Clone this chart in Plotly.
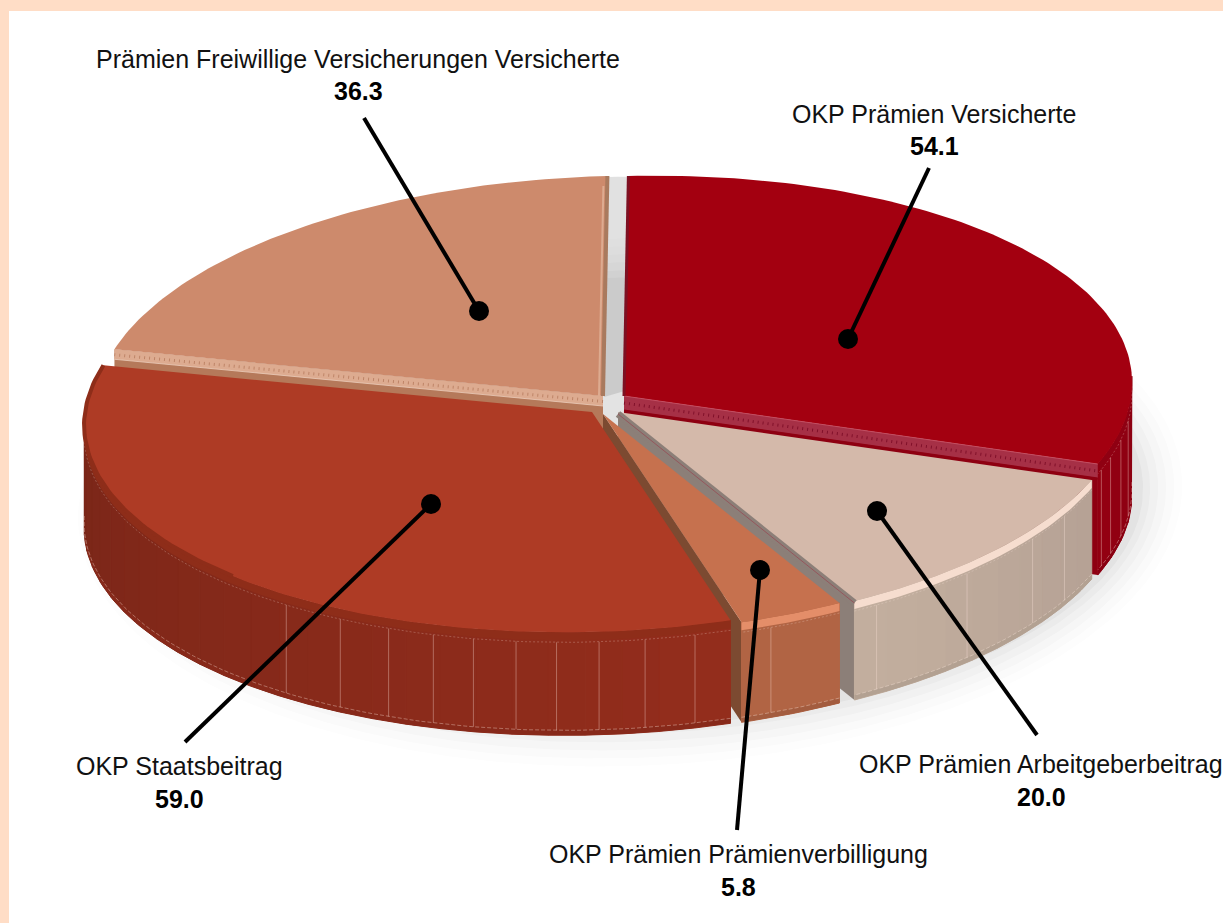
import math
import plotly.graph_objects as go

# ---- data ----
CATEGORIES = ["OKP Prämien Versicherte", "OKP Prämien Arbeitgeberbeitrag",
              "OKP Prämien Prämienverbilligung", "OKP Staatsbeitrag",
              "Prämien Freiwillige Versicherungen Versicherte"]
VALUES = [54.1, 20.0, 5.8, 59.0, 36.3]
VALUE_LABELS = ["54.1", "20.0", "5.8", "59.0", "36.3"]

# ---- styling / layout ----
W, H = 1223, 923
RX, RY = 508, 220
DEPTHS = [111, 99, 100, 103, 97]
TILT, SHEAR = 0.024, 0.02
TIPS = [(624, 396), (618, 412), (603, 414), (592, 412), (603, 396)]
SURFACE = ["#A30010", "#D4B9AA", "#C6714E", "#AE3B25", "#CD8A6C"]
RIM = ["#8F0012", "#F6DDCF", "#E48E69", "#8E2D19", "#B97C5F"]
WALL_A = ["#8A0012", "#B5A194", "#B16444", "#7A2618", "#B97C5F"]
WALL_B = ["#940012", "#C3AF9F", "#B16444", "#932D1C", "#B97C5F"]
RIBS = [[97, 102, 106.7, 110], [118.5, 125.3, 136.6, 149.4], [160.7],
        [168.3, 174, 179.2, 184, 188.6, 193.5, 198.2, 203.6, 209.7, 217], []]
LABEL_POS = [(934, 114, 146), (1041, 764, 797), (738, 854, 887), (179, 766, 799), (358, 59, 91)]
LEADERS = [((929, 168), (848, 339)), ((1037, 735), (877, 511)), ((737, 830), (760, 570)),
           ((185, 742), (431, 504)), ((364, 118), (479, 311))]
FONT = "Liberation Sans, Arial, sans-serif"

total = sum(VALUES)
edges = [0.0]
for v in VALUES:
    edges.append(edges[-1] + v / total * 360.0)


def pt(tip, deg, dz=0.0, rs=1.0):
    t = math.radians(deg)
    dx = rs * RX * math.sin(t)
    dy = -rs * RY * math.cos(t)
    return tip[0] + dx + SHEAR * max(-dy, 0), tip[1] + dy - TILT * dx + dz


def arc(tip, a, b, dz=0.0, rs=1.0, n=None):
    n = n or max(2, int(abs(b - a) / 1.0))
    return [pt(tip, a + (b - a) * i / n, dz, rs) for i in range(n + 1)]


fig = go.Figure()


def poly(points, color, line=0.0, lcolor=None):
    xs = [p[0] for p in points] + [points[0][0]]
    ys = [p[1] for p in points] + [points[0][1]]
    fig.add_trace(go.Scatter(x=xs, y=ys, mode="lines", fill="toself", fillcolor=color,
                             line=dict(width=line, color=lcolor or color),
                             hoverinfo="skip", showlegend=False))


def stroke(points, color, width=1.0, dash=None):
    fig.add_trace(go.Scatter(x=[p[0] for p in points], y=[p[1] for p in points], mode="lines",
                             line=dict(width=width, color=color, dash=dash),
                             hoverinfo="skip", showlegend=False))


def mix(c1, c2, f):
    a = [int(c1[i:i + 2], 16) for i in (1, 3, 5)]
    b = [int(c2[i:i + 2], 16) for i in (1, 3, 5)]
    return "rgb(%d,%d,%d)" % tuple(round(a[i] + (b[i] - a[i]) * f) for i in range(3))


def top(i):
    return [TIPS[i]] + arc(TIPS[i], edges[i], edges[i + 1])


def wall(i):
    a, b = max(edges[i], 88), min(edges[i + 1], 272)
    if b <= a:
        return
    d = DEPTHS[i]
    n = max(1, int((b - a) / 4))
    for k in range(n):
        s, e = a + (b - a) * k / n, a + (b - a) * (k + 1) / n
        f = (k + .5) / n
        f = f if i != 3 else 1 - f
        c = mix(WALL_A[i], WALL_B[i], f)
        poly(arc(TIPS[i], s, e) + arc(TIPS[i], e, s, d), c, 1.0, c)
    # rim highlight, lower lip and dashed seam
    poly(arc(TIPS[i], a, b) + arc(TIPS[i], b, a, 8), RIM[i])
    stroke(arc(TIPS[i], a, b, 10), "rgba(255,235,225,.3)", 0.8, "2px,2px")
    poly(arc(TIPS[i], a, b, d - 5) + arc(TIPS[i], b, a, d), mix(WALL_B[i], "#000000", .08))
    stroke(arc(TIPS[i], a, b, d - 5), "rgba(255,235,225,.45)", 0.8, "4px,2px")
    for r in RIBS[i]:
        stroke([pt(TIPS[i], r, 10), pt(TIPS[i], r, d - 5)], "rgba(255,230,220,.35)", 1)


def cut(i, deg, color):
    p, q = TIPS[i], pt(TIPS[i], deg)
    d = DEPTHS[i]
    poly([p, q, (q[0], q[1] + d), (p[0], p[1] + d)], color)


# soft drop shadow under the whole pie
for g, alpha in [(44, .012), (36, .015), (28, .02), (20, .025), (12, .03), (5, .04)]:
    centre = (TIPS[0][0] + 6, TIPS[0][1] + 100)
    xs = arc(centre, 0, 360)
    poly([(centre[0] + (x - centre[0]) * (1 + g / RX), centre[1] + (y - centre[1]) * (1 + g / RY) + 6)
          for x, y in xs], "rgba(60,60,60,%.3f)" % alpha)

# shade in the gap between the two upper slices
poly([(x - 20, y + 1) for x, y in top(0)[:60]], "rgba(120,120,120,.22)")

# upper-left slice
cut(4, edges[4], "#B5795A")
poly(top(4), SURFACE[4])
a, b = TIPS[4], pt(TIPS[4], edges[4])
poly([a, b, (b[0], b[1] + 10), (a[0], a[1] + 10)], "#DDAB90")
m = 90
stroke([(a[0] + (b[0] - a[0]) * k / m, a[1] + (b[1] - a[1]) * k / m + 5.5) for k in range(m + 1)],
       "#BE8467", 3, "1px,4px")
stroke([(a[0], a[1] + 10), (b[0], b[1] + 10)], "#EBCDBB", 0.8)
top_edge = pt(TIPS[4], edges[5])
stroke([top_edge, TIPS[4]], "#A97A5E", 4)
stroke([(top_edge[0] - 4, top_edge[1] + 10), (TIPS[4][0] - 4, TIPS[4][1])], "#DDAB90", 2)

# right slice
cut(0, edges[1], "#8E0012")
wall(0)
poly(top(0), SURFACE[0])
a, b = TIPS[0], pt(TIPS[0], edges[1])
poly([a, b, (b[0], b[1] + 14), (a[0], a[1] + 14)], "#A63046")
stroke([(a[0] + (b[0] - a[0]) * k / m, a[1] + (b[1] - a[1]) * k / m + 7) for k in range(m + 1)],
       "#80102A", 3, "1px,4px")
stroke([a, b], "#C9566A", 0.8)
stroke([(a[0], a[1] + 14.5), (b[0], b[1] + 14.5)], "#8E0012", 2)
q = pt(TIPS[0], edges[0])
stroke([q, TIPS[0]], "#7E1022", 3)

# lower-right slice
cut(1, edges[2], "#8C7F78")
wall(1)
poly(top(1), SURFACE[1])

# small slice
cut(2, edges[3], "#7C4A31")
wall(2)
poly(top(2), SURFACE[2])
# gray bevel between the small slice and its neighbour
stroke([(TIPS[1][0], TIPS[1][1] + 2), pt(TIPS[1], edges[2], 2)], "#8C7F78", 7)
stroke([(TIPS[1][0], TIPS[1][1] + 2), pt(TIPS[1], edges[2], 2)], "#9A3A4A", 0.6)

# large slice
wall(3)
poly(top(3), SURFACE[3])
stroke(arc(TIPS[3], 225, edges[4]), RIM[3], 4)

# leaders
for (p0, p1) in LEADERS:
    fig.add_trace(go.Scatter(x=[p0[0], p1[0]], y=[p0[1], p1[1]], mode="lines",
                             line=dict(color="#000000", width=4), hoverinfo="skip", showlegend=False))
    fig.add_trace(go.Scatter(x=[p1[0]], y=[p1[1]], mode="markers",
                             marker=dict(color="#000000", size=20), hoverinfo="skip", showlegend=False))

# labels
notes = []
for name, val, (cx, y1, y2) in zip(CATEGORIES, VALUE_LABELS, LABEL_POS):
    notes.append(dict(x=cx, y=y1, text=name, showarrow=False, xanchor="center", yanchor="middle",
                      font=dict(family=FONT, size=25, color="#111111")))
    notes.append(dict(x=cx, y=y2, text="<b>%s</b>" % val, showarrow=False, xanchor="center", yanchor="middle",
                      font=dict(family=FONT, size=25, color="#000000")))

fig.update_layout(
    width=W, height=H, margin=dict(l=9, r=0, t=11, b=0), autosize=False,
    paper_bgcolor="#FFDDC6", plot_bgcolor="#FFFFFF", annotations=notes, showlegend=False,
    xaxis=dict(range=[9, W], visible=False, fixedrange=True),
    yaxis=dict(range=[H, 11], visible=False, fixedrange=True),
)
fig.write_html("out.html", config=dict(displayModeBar=False),
               post_script="document.body.style.margin='0';")
